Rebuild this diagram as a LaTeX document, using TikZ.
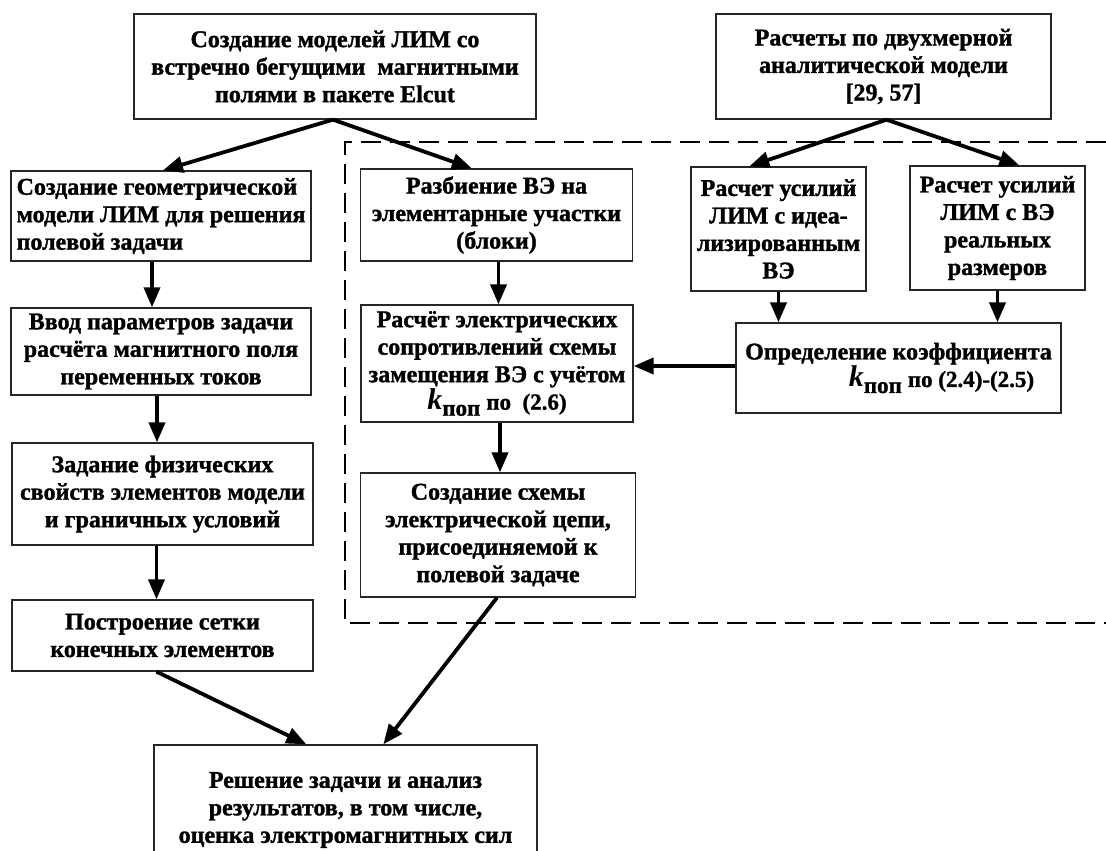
\documentclass[tikz,border=0pt]{standalone}
\usepackage{fontspec}
\setmainfont{Liberation Serif}[BoldFeatures={FakeBold=1.3}]
\usetikzlibrary{arrows.meta}
\newcommand{\kpop}{{\fontsize{30}{30}\selectfont\itshape k}\raisebox{-6pt}{\fontsize{23}{23}\selectfont поп}}
\begin{document}
\begin{tikzpicture}[x=1pt,y=-1pt,
  box/.style={draw=black!85, line width=1.3pt, inner sep=1pt, align=center,
    font=\bfseries\fontsize{24}{27.5}\selectfont},
  arr/.style={line width=3.8pt, -{Triangle[length=20pt,width=16pt]}},
  dsh/.style={line width=1.2pt, dash pattern=on 20pt off 9pt}]
\useasboundingbox (0,0) rectangle (1106,851);
\fill[white] (0,0) rectangle (1106,851);

% dashed frame
\coordinate (dtr) at (1106,142);
\coordinate (dbr) at (1106,623);
\coordinate (dl) at (345,142);
\draw[dsh] (dtr) -- (dl) -- (345,623) -- (dbr);

\node[box, minimum width=402pt, minimum height=105pt] (a) at (335,66.5)
  {Создание моделей ЛИМ со\\встречно бегущими\ \ магнитными\\полями в пакете Elcut};
\node[box, minimum width=335pt, minimum height=105pt] (b) at (883.5,66.5)
  {Расчеты по двухмерной\\аналитической модели\\{[29, 57]}};

\node[box, minimum width=300pt, minimum height=90pt, align=left] (c) at (161,216)
  {Создание геометрической\\модели ЛИМ для решения\\полевой задачи};
\node[box, minimum width=300pt, minimum height=87pt] (d) at (161,351.5)
  {Ввод параметров задачи\\расчёта магнитного поля\\переменных токов};
\node[box, minimum width=301pt, minimum height=102pt] (e) at (162.5,494)
  {Задание физических\\свойств элементов модели\\и граничных условий};
\node[box, minimum width=301pt, minimum height=71pt] (f) at (162.5,635.5)
  {Построение сетки\\конечных элементов};
\node[box, minimum width=383pt, minimum height=130pt] (g) at (345.5,810)
  {Решение задачи и анализ\\результатов, в том числе,\\оценка электромагнитных сил};

\node[box, minimum width=272pt, minimum height=92pt] (h) at (496.5,215)
  {Разбиение ВЭ на\\элементарные участки\\(блоки)};
\node[box, minimum width=175pt, minimum height=124pt] (i) at (778.5,229)
  {Расчет усилий\\ЛИМ с идеа-\\лизированным\\ВЭ};
\node[box, minimum width=175pt, minimum height=124pt] (j) at (997.5,228)
  {Расчет усилий\\ЛИМ с ВЭ\\реальных\\размеров};
\node[box, minimum width=325pt, minimum height=90pt] (k) at (898.5,368)
  {Определение коэффициента\\\hspace*{86pt}\kpop\ {\fontsize{23}{23}\selectfont по (2.4)-(2.5)}};
\node[box, minimum width=272pt, minimum height=117pt] (l) at (497,363.5)
  {Расчёт электрических\\сопротивлений схемы\\замещения ВЭ с учётом\\\kpop\ {\fontsize{23}{23}\selectfont по~ (2.6)}};
\node[box, minimum width=275pt, minimum height=124pt] (m) at (498,535)
  {Создание схемы\\электрической цепи,\\присоединяемой к\\полевой задаче};

% connectors
\draw[arr] ([xshift=-2pt]a.south) -- ([xshift=2pt]c.north);
\draw[arr] ([xshift=-2pt]a.south) -- ([xshift=112pt]h.north west);
\draw[arr] ([xshift=3pt]b.south) -- ([xshift=59pt]i.north west);
\draw[arr] ([xshift=3pt]b.south) -- ([xshift=110pt]j.north west);
\draw[arr] ([xshift=-9pt]c.south) -- ([xshift=-9pt]d.north);
\draw[arr] ([xshift=-4pt]d.south) -- ([xshift=-4pt]d.south |- e.north);
\draw[arr] ([xshift=-6pt]e.south) -- ([xshift=-6pt]f.north);
\draw[arr] ([xshift=2pt]h.south) -- ([xshift=2pt]h.south |- l.north);
\draw[arr] ([xshift=3pt]l.south) -- ([xshift=3pt]l.south |- m.north);
\draw[arr] (i.south) -- (i.south |- k.north);
\draw[arr] (j.south) -- (j.south |- k.north);
\draw[arr] ([yshift=2pt]k.west) -- ([yshift=2pt]k.west -| l.east);
\draw[arr] ([xshift=-6pt]f.south) -- ([xshift=153pt]g.north west);
\draw[arr] ([xshift=-1pt]m.south) -- ([xshift=230pt]g.north west);
\end{tikzpicture}
\end{document}
